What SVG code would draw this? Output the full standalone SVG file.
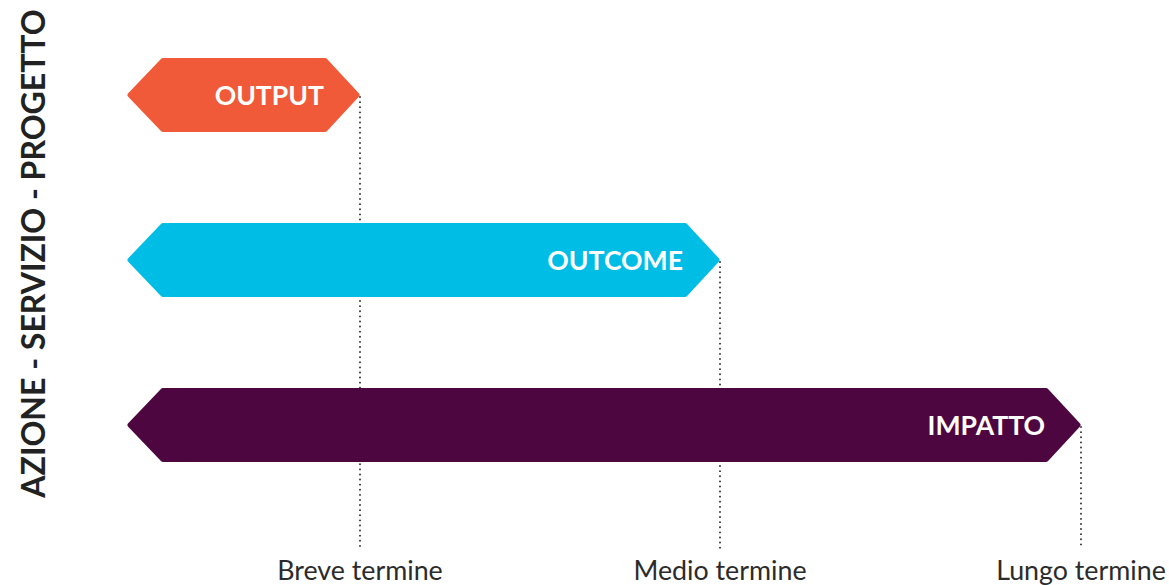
<svg xmlns="http://www.w3.org/2000/svg" width="1169" height="585" viewBox="0 0 1169 585">
  <style>
    .bar { stroke-linejoin: round; stroke-width: 5; }
    .lbl { font-family: Lato, "Liberation Sans", sans-serif; font-weight: bold; font-size: 26.6px; fill: #ffffff; text-anchor: end; }
    .term { font-family: Lato, "Liberation Sans", sans-serif; font-size: 26.8px; fill: #2b2b2b; text-anchor: middle; }
    .axis { font-family: Lato, "Liberation Sans", sans-serif; font-weight: bold; font-size: 32px; fill: #222222; text-anchor: middle; }
    .guide { stroke: #222222; stroke-width: 1.8; stroke-dasharray: 0.1 5; stroke-linecap: round; fill: none; }
  </style>

  <text class="axis" transform="translate(45 253.5) rotate(-90)">AZIONE - SERVIZIO - PROGETTO</text>

  <g id="connectors">
    <line class="guide" x1="360" y1="97" x2="360" y2="548"/>
    <line class="guide" x1="720" y1="262" x2="720" y2="548"/>
    <line class="guide" x1="1081" y1="427" x2="1081" y2="548"/>
  </g>

  <g id="output">
    <polygon class="bar" fill="#F05A38" stroke="#F05A38" points="130,95 163,60.5 325,60.5 357,95 325,129.5 163,129.5"/>
    <text class="lbl" x="324" y="105">OUTPUT</text>
  </g>

  <g id="outcome">
    <polygon class="bar" fill="#00BDE6" stroke="#00BDE6" points="130,260 163,225.5 685,225.5 717,260 685,294.5 163,294.5"/>
    <text class="lbl" x="683" y="270">OUTCOME</text>
  </g>

  <g id="impatto">
    <polygon class="bar" fill="#4E0640" stroke="#4E0640" points="130,425 163,390.5 1046,390.5 1078,425 1046,459.5 163,459.5"/>
    <text class="lbl" x="1045" y="435">IMPATTO</text>
  </g>

  <g id="breve">
    <text class="term" x="360" y="580">Breve termine</text>
  </g>
  <g id="medio">
    <text class="term" x="720" y="580">Medio termine</text>
  </g>
  <g id="lungo">
    <text class="term" x="1081" y="580">Lungo termine</text>
  </g>
</svg>
